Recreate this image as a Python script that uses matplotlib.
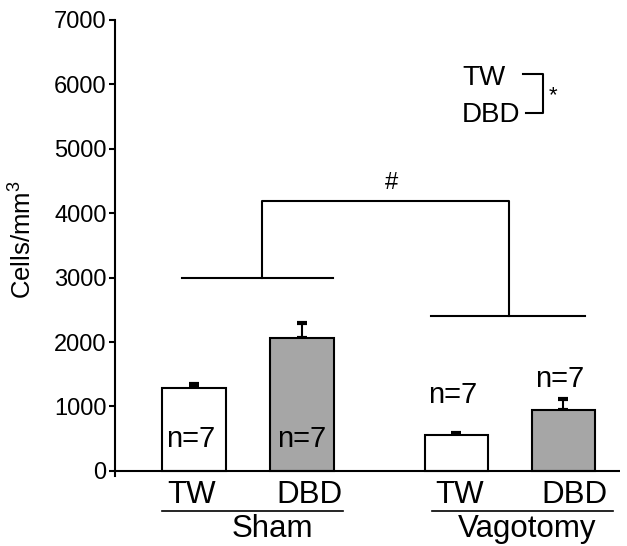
import matplotlib
matplotlib.use("Agg")
import matplotlib.pyplot as plt

plt.rcParams['font.family'] = ['Liberation Sans', 'DejaVu Sans']
plt.rcParams['mathtext.fontset'] = 'custom'
plt.rcParams['mathtext.rm'] = 'Liberation Sans'
plt.rcParams['mathtext.it'] = 'Liberation Sans:italic'

# Data
groups = ["Sham", "Vagotomy"]
treatments = ["TW", "DBD", "TW", "DBD"]
means = [1290, 2060, 555, 945]
errors = [60, 230, 35, 170]
n_labels = ["n=7", "n=7", "n=7", "n=7"]
yticks = [0, 1000, 2000, 3000, 4000, 5000, 6000, 7000]

xpos = [0.0, 1.0, 2.43, 3.42]
colors = ["white", "#a6a6a6", "white", "#a6a6a6"]
lw = 1.5

fig = plt.figure(figsize=(6.27, 5.46), dpi=100)
ax = fig.add_axes([0.1834, 0.1282, 0.8054, 0.8352])

ax.bar(xpos, means, width=0.585, color=colors, edgecolor="black",
       linewidth=lw, zorder=2)
ax.errorbar(xpos, means, yerr=[[0] * 4, errors], fmt="none", ecolor="black",
            elinewidth=lw, capsize=3.5, capthick=3, zorder=1)

ax.set_xlim(-0.7315, 3.944)
ax.set_ylim(-80, 7000)
ax.set_yticks(yticks)
ax.set_xticks([])
for s in ["top", "right", "bottom"]:
    ax.spines[s].set_visible(False)
ax.spines["left"].set_linewidth(lw)
ax.axhline(0, color="black", linewidth=lw, zorder=3)
ax.tick_params(axis="y", length=4, width=lw, pad=2, labelsize=17)

fig.text(23 / 627, 1 - 240 / 546, "Cells/mm$^3$", rotation=90,
         ha="center", va="center", fontsize=18.5)

# n labels: inside the Sham bars, above the Vagotomy bars
n_x = [-0.028, 1.0, 2.398, 3.389]
n_y = [373, 373, 1056, 1304]
for x, y, t in zip(n_x, n_y, n_labels):
    ax.text(x, y, t, ha="center", va="baseline", fontsize=21, zorder=4)

# category labels below the axis
lab_x = [-0.023, 1.065, 2.463, 3.519]
for x, t in zip(lab_x, treatments):
    ax.text(x, -497, t, ha="center", va="baseline", fontsize=22.5, clip_on=False)

# group underlines and names
for (x0, x1), xc, g in zip([(-0.296, 1.380), (2.204, 3.880)], [0.722, 3.083], groups):
    ax.plot([x0, x1], [-621, -621], color="black", linewidth=1.2, clip_on=False)
    ax.text(xc, -1025, g, ha="center", va="baseline", fontsize=22.5, clip_on=False)

# group comparison bracket (#)
ax.plot([-0.111, 1.287], [3000, 3000], color="black", linewidth=lw)
ax.plot([0.630, 0.630, 2.917, 2.917], [3000, 4193, 4193, 2407],
        color="black", linewidth=lw)
ax.plot([2.194, 3.620], [2407, 2407], color="black", linewidth=lw)
ax.text(1.833, 4472, "#", ha="center", va="center", fontsize=17)

# treatment key with bracket (*)
ax.text(2.481, 5994, "TW", ha="left", va="baseline", fontsize=20)
ax.text(2.481, 5419, "DBD", ha="left", va="baseline", fontsize=20)
ax.plot([3.046, 3.231, 3.231, 3.074], [6165, 6165, 5559, 5559],
        color="black", linewidth=lw)
ax.text(3.324, 5823, "*", ha="center", va="center", fontsize=16)

fig.savefig("out.png", dpi=100)
